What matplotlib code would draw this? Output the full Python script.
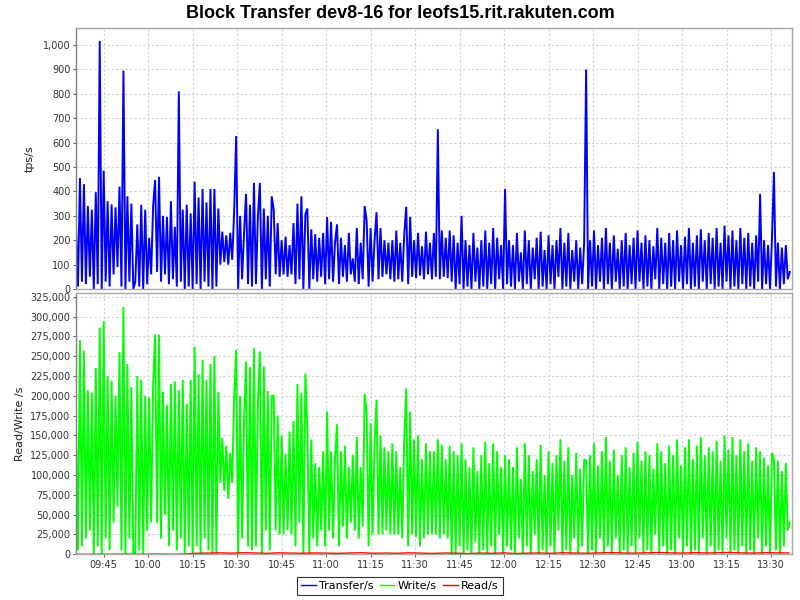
import matplotlib
matplotlib.use("Agg")
import matplotlib.pyplot as plt
import matplotlib.dates as mdates
from matplotlib.ticker import FuncFormatter, MultipleLocator
import pandas as pd

# ---------------- data ----------------
start_time = "2014-01-01 09:35:40"
step = "40s"

# Transfer/s (tps), one value per 40 s
transfer = [
    260, 10, 455, 30, 430, 20, 340, 50, 325, 0,
    397, 20, 1017, 0, 485, 30, 360, 10, 347, 60,
    335, 90, 420, 10, 895, 0, 380, 30, 350, 0,
    30, 265, 10, 345, 0, 325, 20, 210, 60, 340,
    447, 70, 460, 30, 300, 60, 295, 20, 360, 40,
    255, 10, 810, 30, 325, 0, 345, 10, 310, 0,
    440, 20, 375, 0, 410, 30, 355, 10, 410, 0,
    410, 10, 330, 100, 235, 110, 220, 100, 230, 120,
    320, 627, 0, 300, 40, 230, 390, 20, 345, 10,
    435, 20, 300, 435, 0, 330, 40, 300, 10, 380,
    325, 60, 270, 50, 200, 60, 215, 50, 180, 60,
    270, 20, 350, 40, 380, 0, 305, 330, 0, 245,
    40, 225, 30, 210, 50, 230, 20, 295, 40, 275,
    30, 190, 265, 20, 210, 50, 180, 30, 230, 60,
    125, 30, 250, 20, 190, 40, 340, 280, 10, 250,
    30, 200, 315, 40, 250, 50, 200, 60, 190, 40,
    200, 30, 240, 40, 190, 30, 220, 337, 20, 296,
    50, 200, 45, 230, 55, 175, 40, 235, 60, 190,
    40, 230, 50, 655, 40, 240, 50, 210, 45, 240,
    30, 220, 0, 190, 20, 300, 0, 200, 10, 180,
    0, 230, 30, 170, 0, 200, 10, 240, 0, 190,
    20, 250, 0, 210, 40, 180, 0, 410, 20, 200,
    10, 180, 0, 230, 30, 150, 0, 240, 20, 200,
    0, 170, 40, 210, 0, 235, 10, 160, 0, 220,
    20, 180, 0, 200, 50, 250, 0, 190, 10, 230,
    0, 160, 30, 200, 0, 170, 20, 190, 900, 0,
    200, 10, 240, 0, 180, 30, 210, 0, 250, 20,
    190, 0, 220, 30, 165, 0, 200, 10, 230, 0,
    180, 20, 210, 0, 240, 30, 190, 0, 220, 10,
    200, 0, 175, 40, 250, 0, 210, 20, 190, 0,
    230, 10, 200, 0, 240, 30, 180, 0, 215, 20,
    250, 0, 190, 10, 220, 0, 245, 30, 200, 0,
    230, 20, 210, 0, 250, 10, 190, 0, 260, 30,
    220, 0, 240, 10, 200, 0, 250, 20, 210, 0,
    230, 10, 190, 0, 220, 30, 390, 0, 200, 20,
    180, 0, 210, 480, 10, 190, 0, 170, 20, 180, 40, 70,
]

# Write/s in thousands, one value per 40 s
write_k = [
    165, 5, 270, 10, 257, 20, 207, 30, 204, 0,
    235, 10, 286, 0, 294, 20, 225, 5, 219, 40,
    200, 60, 255, 5, 312, 0, 240, 20, 211, 0,
    0, 225, 5, 220, 0, 200, 30, 198, 40, 214,
    277, 40, 277, 20, 205, 50, 188, 10, 215, 30,
    218, 5, 207, 20, 220, 0, 190, 10, 220, 0,
    262, 10, 227, 0, 245, 20, 220, 5, 240, 0,
    250, 0, 205, 90, 147, 80, 137, 70, 128, 90,
    200, 258, 0, 200, 20, 170, 243, 10, 236, 5,
    260, 10, 190, 256, 0, 237, 30, 206, 5, 200,
    200, 30, 175, 25, 150, 25, 127, 30, 155, 25,
    168, 10, 215, 40, 204, 0, 228, 157, 0, 145,
    20, 115, 10, 110, 30, 130, 10, 180, 30, 130,
    20, 120, 164, 10, 130, 35, 137, 20, 110, 40,
    125, 30, 148, 20, 110, 35, 202, 178, 10, 165,
    25, 140, 195, 25, 150, 25, 135, 30, 130, 25,
    140, 25, 130, 25, 110, 20, 145, 209, 10, 180,
    25, 145, 22, 150, 10, 120, 20, 140, 25, 130,
    25, 130, 25, 145, 20, 138, 25, 120, 20, 137,
    0, 130, 0, 125, 10, 140, 0, 120, 5, 110,
    0, 135, 15, 105, 0, 125, 5, 142, 0, 115,
    10, 140, 0, 130, 25, 110, 0, 125, 10, 120,
    5, 110, 0, 135, 20, 95, 0, 140, 10, 125,
    0, 105, 25, 120, 0, 138, 5, 100, 0, 130,
    10, 115, 0, 125, 30, 145, 0, 118, 5, 135,
    0, 100, 20, 128, 0, 108, 10, 120, 118, 0,
    125, 5, 140, 0, 112, 20, 130, 0, 148, 10,
    118, 0, 132, 20, 100, 0, 125, 5, 135, 0,
    110, 10, 128, 0, 142, 20, 118, 0, 130, 5,
    125, 0, 108, 25, 140, 0, 130, 10, 115, 0,
    137, 5, 125, 0, 145, 20, 112, 0, 135, 10,
    145, 0, 120, 5, 137, 0, 148, 20, 125, 0,
    135, 10, 130, 0, 143, 5, 118, 0, 150, 20,
    132, 0, 148, 5, 125, 0, 145, 10, 130, 0,
    140, 5, 118, 0, 135, 20, 130, 0, 122, 10,
    112, 0, 128, 120, 5, 118, 0, 105, 10, 115, 30, 40,
]

# Read/s, one value every 4 minutes from 09:36
read_start = "2014-01-01 09:36:00"
read_step = "4min"
read = [
    0, 0, 100, 0, 200, 0, 100, 300, 0, 200,
    1200, 1500, 1800, 1400, 2000, 1600, 1200, 1800, 1500, 1300,
    1700, 1400, 1100, 1600, 1900, 1300, 1500, 1200, 1800, 1400,
    1000, 1600, 1300, 900, 1500, 1200, 1700, 1000, 1400, 1600,
    1200, 1900, 1500, 1300, 1700, 2100, 1600, 1400, 1800, 2200,
    1700, 1500, 2000, 1600, 1900, 2300, 1700, 1500, 2000, 1800, 1600,
]

title = "Block Transfer dev8-16 for leofs15.rit.rakuten.com"
x_end = "2014-01-01 13:37:05"

# ---------------- plotting ----------------
t = pd.date_range(start_time, periods=len(transfer), freq=step)
tr = pd.date_range(read_start, periods=len(read), freq=read_step)
write = [v * 1000 for v in write_k]

plt.rcParams['font.family'] = ['DejaVu Sans']
fig = plt.figure(figsize=(8, 6), dpi=100)
fig.patch.set_facecolor('white')

ax1 = fig.add_axes([0.095, 0.5183, 0.895, 0.435])
ax2 = fig.add_axes([0.095, 0.0762, 0.895, 0.435], sharex=ax1)

border = '#a8a8a8'
gridc = '#d2d2d2'

l1, = ax1.plot(t, transfer, color='#0000ff', lw=1.4, label='Transfer/s',
               solid_joinstyle='miter')
l2, = ax2.plot(t, write, color='#00ff00', lw=1.4, label='Write/s',
               solid_joinstyle='miter')
l3, = ax2.plot(tr, read, color='#ff0000', lw=1.0, label='Read/s')

ax1.set_ylim(0, 1070)
ax2.set_ylim(0, 329300)
ax1.set_xlim(pd.Timestamp(start_time), pd.Timestamp(x_end))

ax1.yaxis.set_major_locator(MultipleLocator(100))
ax2.yaxis.set_major_locator(MultipleLocator(25000))
fmt = FuncFormatter(lambda v, p: f"{int(round(v)):,}")
ax1.yaxis.set_major_formatter(fmt)
ax2.yaxis.set_major_formatter(fmt)

ax2.xaxis.set_major_locator(mdates.MinuteLocator(byminute=[0, 15, 30, 45]))
ax2.xaxis.set_major_formatter(mdates.DateFormatter('%H:%M'))
plt.setp(ax1.get_xticklabels(), visible=False)

for ax in (ax1, ax2):
    ax.set_facecolor('white')
    ax.grid(True, color=gridc, linestyle=(0, (2, 2)), linewidth=0.8)
    ax.set_axisbelow(True)
    for s in ax.spines.values():
        s.set_color(border)
        s.set_linewidth(1.0)
    ax.spines['left'].set_color('#808080')
    ax.tick_params(axis='both', labelsize=7, colors='#444444', length=2,
                   width=0.6, labelcolor='#333333', pad=2)

ax1.tick_params(axis='x', length=0)
ax1.set_ylabel('tps/s', fontsize=8, color='#222222', labelpad=6)
ax2.set_ylabel('Read/Write /s', fontsize=8, color='#222222', labelpad=4)

fig.suptitle(title, x=0.5, y=0.978, va='center', fontsize=13,
             fontweight='bold', family='Liberation Sans')

leg = fig.legend(handles=[l1, l2, l3], loc='center', ncol=3,
                 bbox_to_anchor=(0.5, 0.0235), fontsize=8, frameon=True,
                 fancybox=False, edgecolor='black', handlelength=1.3,
                 handletextpad=0.3, columnspacing=0.6, borderpad=0.35)
leg.get_frame().set_linewidth(0.8)
for h in leg.get_lines():
    h.set_linewidth(1.0)

fig.savefig('out.png', dpi=100, facecolor='white')
